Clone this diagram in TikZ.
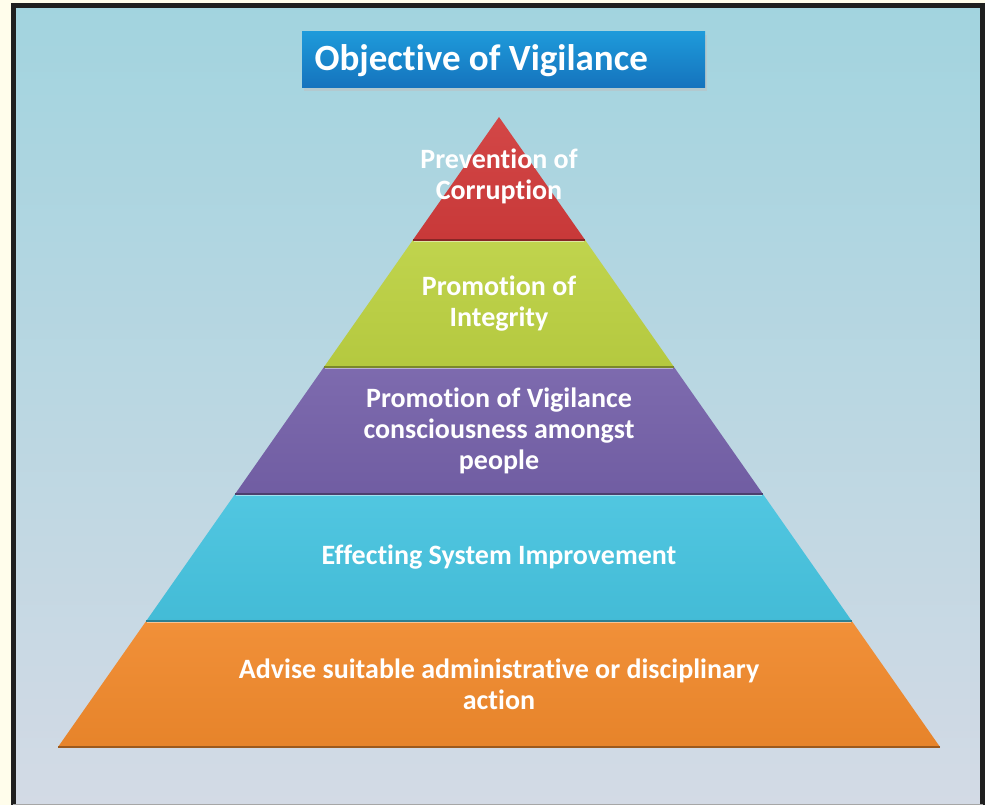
\documentclass[tikz,border=0pt]{standalone}
\usepackage{fontspec}
\setmainfont[Ligatures=NoCommon]{Carlito}
\usepackage{xcolor}
\definecolor{cream}{HTML}{FFFDEB}
\definecolor{bgtop}{HTML}{A2D4DF}
\definecolor{bgmid}{HTML}{B6CCDE}
\definecolor{bgbot}{HTML}{D3DAE5}
\definecolor{titletop}{HTML}{1E9ADA}
\definecolor{titlebot}{HTML}{1573BD}
\definecolor{redlvl}{HTML}{D03B3B}
\definecolor{greenlvl}{HTML}{BCD142}
\definecolor{purplelvl}{HTML}{7561A9}
\definecolor{cyanlvl}{HTML}{46C3DF}
\definecolor{orangelvl}{HTML}{F0892C}

\begin{document}
\begin{tikzpicture}[x=1pt,y=-1pt,
  lvltext/.style={text=white,font=\bfseries\fontsize{28}{31}\selectfont,align=center},
  lvlfill/.style={top color=#1!94!white,bottom color=#1!96!black}]
\useasboundingbox(0,0)rectangle(985,805);
\fill[cream](0,0)rectangle(985,805);% outside strip
\shade[top color=bgtop,middle color=bgmid,bottom color=bgbot](13,5)rectangle(983,804);% background
\draw[line width=5pt,black!88](13.5,805)--(13.5,5.5)--(982.5,5.5)--(982.5,805);% frame
\draw[gray!70,line width=1pt](13,804)--(983,804);

% title
\fill[black!25,opacity=0.5](304,35)rectangle(707,91);% shadow
\shade[top color=titletop,bottom color=titlebot](302,32)rectangle(705,88);
\node[anchor=west,text=white,font=\bfseries\fontsize{37}{40}\selectfont](title) at (311,61){Objective of Vigilance};

% pyramid levels
\coordinate(apex) at (499,117);
\shade[lvlfill=orangelvl](146.2,621)--(851.8,621)--(940,747)--(58,747)--cycle;
\draw[orangelvl!65!black,line width=1.2pt](58,747)--(940,747);
\draw[orangelvl!50!white,line width=1pt](147,622)--(851,622);
\shade[lvlfill=cyanlvl](235.1,494)--(762.9,494)--(851.8,621)--(146.2,621)--cycle;
\draw[cyanlvl!65!black,line width=1.2pt](146.2,621)--(851.8,621);
\draw[cyanlvl!50!white,line width=1pt](236,495)--(762,495);
\shade[lvlfill=purplelvl](324,367)--(674,367)--(762.9,494)--(235.1,494)--cycle;
\draw[purplelvl!65!black,line width=1.2pt](235.1,494)--(762.9,494);
\draw[purplelvl!50!white,line width=1pt](325,368)--(673,368);
\shade[lvlfill=greenlvl](412.9,240)--(585.1,240)--(674,367)--(324,367)--cycle;
\draw[greenlvl!65!black,line width=1.2pt](324,367)--(674,367);
\draw[greenlvl!50!white,line width=1pt](414,241)--(584,241);
\shade[lvlfill=redlvl](apex)--(585.1,240)--(412.9,240)--cycle;
\draw[redlvl!65!black,line width=1.2pt](412.9,240)--(585.1,240);

% labels
\node[lvltext](prevention) at (499,176){Prevention of\\Corruption};
\node[lvltext](integrity) at (499,304){Promotion of\\Integrity};
\node[lvltext](consciousness) at (499,431){Promotion of Vigilance\\consciousness amongst\\people};
\node[lvltext](system) at (499,557){Effecting System Improvement};
\node[lvltext](action) at (499,684){Advise suitable administrative or disciplinary\\action};
\end{tikzpicture}
\end{document}
